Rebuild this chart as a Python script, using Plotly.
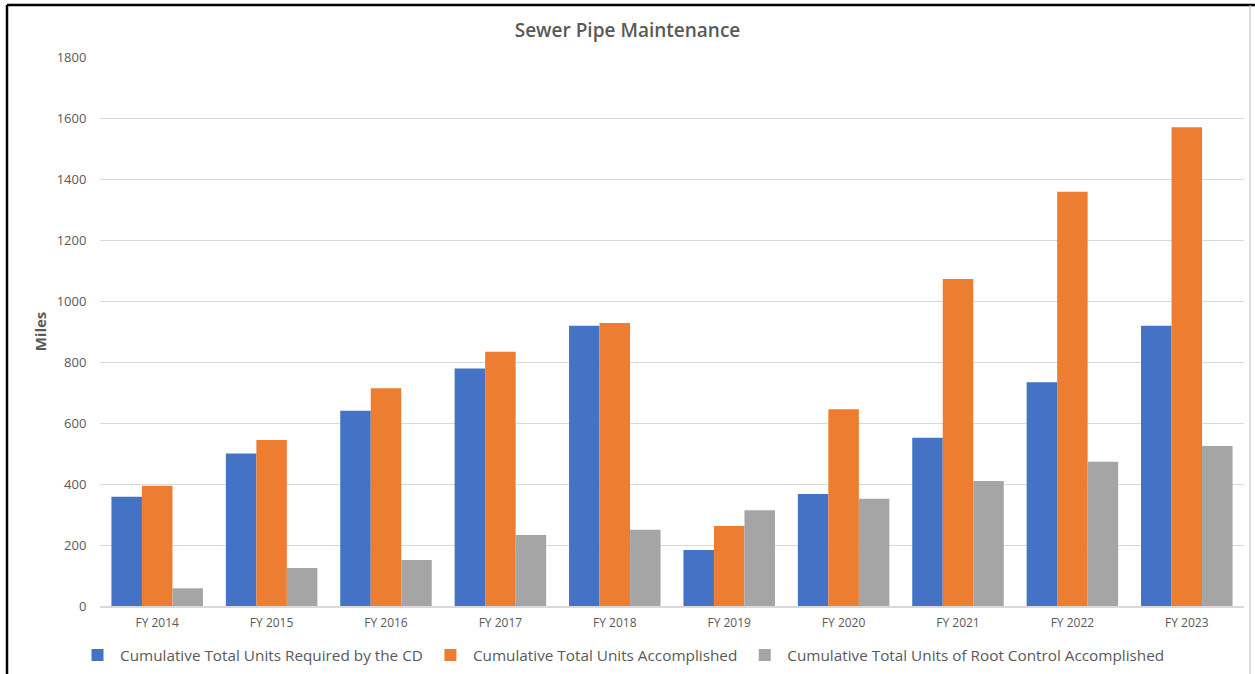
import plotly.graph_objects as go

# Fiscal years on the category axis
years = ["FY 2014", "FY 2015", "FY 2016", "FY 2017", "FY 2018",
         "FY 2019", "FY 2020", "FY 2021", "FY 2022", "FY 2023"]

# Miles per series
required_cd = [358, 500, 640, 779, 919, 184, 367, 552, 734, 919]
accomplished = [394, 544, 714, 834, 928, 262, 645, 1072, 1358, 1570]
root_control = [58, 125, 151, 233, 250, 314, 352, 410, 473, 525]

y_ticks = [0, 200, 400, 600, 800, 1000, 1200, 1400, 1600, 1800]

W, H = 1255, 674
ML, MR, MT, MB = 100, 11, 57, 68

TEXT = "#595959"
FONT = "Open Sans"

fig = go.Figure()
series = [
    ("Cumulative Total Units Required by the CD", required_cd, "#4472C4"),
    ("Cumulative Total Units Accomplished", accomplished, "#ED7D31"),
    ("Cumulative Total Units of Root Control Accomplished", root_control, "#A5A5A5"),
]
for name, vals, color in series:
    fig.add_trace(go.Bar(
        x=years, y=vals, name=name,
        marker=dict(color=color, line=dict(width=0)),
    ))


def px_x(px):
    return (px - ML) / (W - ML - MR)


def px_y(py):
    return (H - MB - py) / (H - MT - MB)


# Frame around the chart
frame = [
    dict(x0=px_x(7), x1=px_x(W), y0=px_y(5), y1=px_y(5), color="#000000", width=2.5),
    dict(x0=px_x(7), x1=px_x(7), y0=px_y(5), y1=px_y(H), color="#000000", width=2.5),
    dict(x0=px_x(1250), x1=px_x(1250), y0=px_y(5), y1=px_y(H), color="#BFBFBF", width=1),
]
shapes = [
    dict(type="line", xref="paper", yref="paper",
         x0=f["x0"], x1=f["x1"], y0=f["y0"], y1=f["y1"],
         line=dict(color=f["color"], width=f["width"]))
    for f in frame
]

fig.update_layout(
    width=W, height=H,
    margin=dict(l=ML, r=MR, t=MT, b=MB, autoexpand=False),
    paper_bgcolor="white", plot_bgcolor="white",
    font=dict(family=FONT, color=TEXT, size=12),
    title=dict(text="Sewer Pipe Maintenance", x=0.5, xanchor="center",
               y=1 - 30 / H, yanchor="middle",
               font=dict(family=FONT, size=19, color=TEXT, weight=600)),
    barmode="group", bargap=0.2, bargroupgap=0,
    legend=dict(orientation="h", x=px_x(75), xanchor="left",
                y=px_y(655), yanchor="middle",
                font=dict(family=FONT, size=15.3, color=TEXT),
                itemwidth=35, traceorder="normal"),
    shapes=shapes,
    xaxis=dict(showgrid=False, ticks="outside", ticklen=5,
               tickcolor="rgba(0,0,0,0)", showline=True,
               linecolor="#D9D9D9", linewidth=1.5,
               tickfont=dict(size=12, color=TEXT)),
    yaxis=dict(range=[0, 1800], tickvals=y_ticks, showgrid=True,
               gridcolor="#D9D9D9", gridwidth=1, zeroline=False,
               ticks="outside", ticklen=10, tickcolor="rgba(0,0,0,0)",
               showline=False, tickfont=dict(size=13, color=TEXT),
               title=dict(text="<b>Miles</b>", standoff=6,
                          font=dict(size=15, color=TEXT))),
)

fig.write_html("out.html")
